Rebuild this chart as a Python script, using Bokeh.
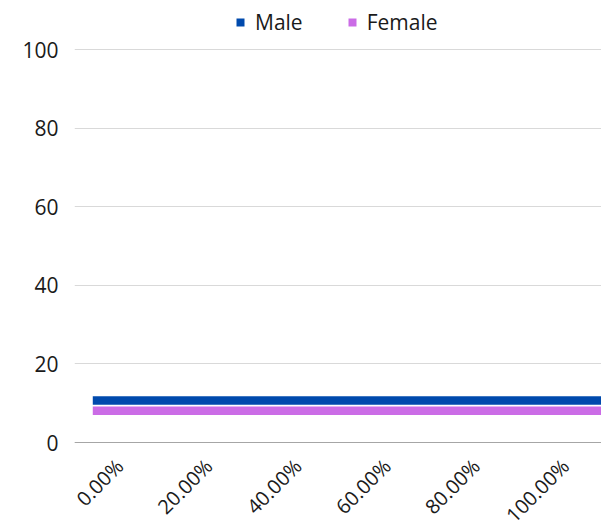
import math
from bokeh.plotting import figure
from bokeh.models import Legend, LegendItem, Range1d, ColumnDataSource
from bokeh.embed import file_html
from bokeh.resources import INLINE

# ---- data ----
series = ["Male", "Female"]
values = [10.7, 8.1]
colors = ["#004AAD", "#CB6CE6"]
bar_start = [-6, -6]
bar_end = [110, 110]
x_ticks = [0, 20, 40, 60, 80, 100]
x_tick_labels = ["0.00%", "20.00%", "40.00%", "60.00%", "80.00%", "100.00%"]
y_ticks = [0, 20, 40, 60, 80, 100]

FONT = "Open Sans"
TEXT = "#1a1a1a"

p = figure(width=601, height=530, output_backend="svg", toolbar_location=None,
           x_range=Range1d(-10.1, 108.1), y_range=Range1d(-22.4, 112.55),
           x_axis_location=None,
           min_border_left=74, min_border_right=0, min_border_top=0,
           min_border_bottom=0)
p.outline_line_color = None
p.background_fill_color = "white"

renderers = []
for i in range(len(series)):
    s = ColumnDataSource(dict(y=[values[i]], left=[bar_start[i]], right=[bar_end[i]]))
    r = p.hbar(y="y", left="left", right="right", height=2.2, source=s,
               fill_color=colors[i], line_color=None)
    renderers.append(r)

# y axis
p.yaxis.ticker = y_ticks
p.yaxis.axis_line_color = None
p.yaxis.major_tick_line_color = None
p.yaxis.minor_tick_line_color = None
p.yaxis.major_label_standoff = 10
p.yaxis.major_label_text_font = FONT
p.yaxis.major_label_text_font_size = "21px"
p.yaxis.major_label_text_color = TEXT

# x axis drawn at y = 0 inside the frame
from bokeh.models import LinearAxis
xaxis = LinearAxis(fixed_location=0)
xaxis.ticker = x_ticks
xaxis.major_label_overrides = dict(zip(x_ticks, x_tick_labels))
xaxis.major_label_orientation = math.pi / 4
xaxis.axis_line_color = "#a6a6a6"
xaxis.major_tick_line_color = None
xaxis.minor_tick_line_color = None
xaxis.major_label_standoff = 14
xaxis.major_label_text_font = FONT
xaxis.major_label_text_font_size = "20px"
xaxis.major_label_text_color = TEXT
p.add_layout(xaxis, "below")

p.xgrid.grid_line_color = None
p.ygrid.ticker = y_ticks
p.ygrid.grid_line_color = "#d9d9d9"

legend = Legend(items=[LegendItem(label=series[i], renderers=[renderers[i]]) for i in range(len(series))],
                orientation="horizontal", location=(161, 494),
                glyph_width=10, glyph_height=10, label_standoff=10, spacing=44,
                label_text_font=FONT, label_text_font_size="21px",
                label_text_color=TEXT, border_line_color=None,
                background_fill_alpha=0, padding=0, margin=0)
p.add_layout(legend, "center")

open("out.html", "w").write(file_html(p, INLINE))
